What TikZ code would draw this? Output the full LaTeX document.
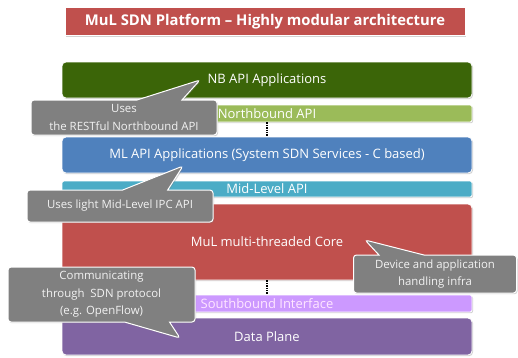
\documentclass[tikz,border=0pt]{standalone}
\usepackage{fontspec}
\setmainfont{Open Sans}
\usetikzlibrary{shapes.callouts,shadows}
\definecolor{titlered}{HTML}{C0504D}
\definecolor{nbgreen}{HTML}{3B6508}
\definecolor{nbbar}{HTML}{9BBB59}
\definecolor{mlblue}{HTML}{4F81BD}
\definecolor{midbar}{HTML}{4BACC6}
\definecolor{corered}{HTML}{C0504D}
\definecolor{sbbar}{HTML}{CC99FF}
\definecolor{dpviolet}{HTML}{8064A2}
\definecolor{calgray}{HTML}{808080}
\definecolor{caltext}{HTML}{F2F2F2}
\begin{document}
\begin{tikzpicture}[x=1pt,y=-1pt,
  layerbox/.style={draw=white, line width=0.8pt, rounded corners=4pt, text=white,
    minimum width=410pt, inner sep=0pt, font=\fontsize{13}{14}\selectfont,
    drop shadow={shadow xshift=1pt, shadow yshift=-1.2pt, opacity=0.35}},
  barbox/.style={layerbox, rounded corners=2pt},
  callbox/.style={rectangle callout, draw=white, line width=1pt, fill=calgray,
    rounded corners=3pt, text=caltext, align=center, inner sep=0pt,
    font=\fontsize{11.4}{17.5}\selectfont, callout pointer width=45pt,
    drop shadow={shadow xshift=1pt, shadow yshift=-1.2pt, opacity=0.35}},
  dotline/.style={line width=1.4pt, dash pattern=on 1.3pt off 1.1pt}]
\useasboundingbox[fill=white] (0,0) rectangle (518,357);
% title
\node[fill=titlered, draw=white, line width=0.8pt, text=white, inner sep=0pt,
  minimum width=400pt, minimum height=28pt, font=\bfseries\fontsize{14.8}{16}\selectfont,
  drop shadow={shadow xshift=1pt, shadow yshift=-1.2pt, opacity=0.35}]
  (title) at (265,21.5) {MuL SDN Platform – Highly modular architecture};
% layers
\node[layerbox, fill=nbgreen, minimum height=36pt] (nb) at (267,80) {NB API Applications};
\node[barbox, fill=nbbar, minimum height=17pt] (nbapi) at (267,113.5) {Northbound API};
\node[layerbox, fill=mlblue, minimum height=36pt] (ml) at (267,155) {ML API Applications (System SDN Services - C based)};
\node[barbox, fill=midbar, minimum height=16pt] (mid) at (267,189) {Mid-Level API};
\node[layerbox, fill=corered, minimum height=76pt] (core) at (267,242) {MuL multi-threaded Core};
\node[barbox, fill=sbbar, minimum height=17pt, text={rgb,255:red,255;green,230;blue,255}] (sb) at (267,303.5) {Southbound Interface};
\node[layerbox, fill=dpviolet, minimum height=37pt] (dp) at (267,336.5) {Data Plane};
% dotted links
\draw[dotline] (nbapi.south) -- (ml.north);
\draw[dotline] (core.south) -- (sb.north);
% pointer tips
\coordinate (p1) at (200,80);
\coordinate (p2) at (183,166);
\coordinate (p3) at (365,240);
\coordinate (p4) at (180,338);
% callouts
\node[callbox, callout absolute pointer={(p1)}, minimum width=186pt, minimum height=35pt]
  (c1) at (124,117.5) {Uses\\the RESTful Northbound API};
\node[callbox, callout absolute pointer={(p2)}, minimum width=186pt, minimum height=32pt]
  (c2) at (120,206) {Uses light Mid-Level IPC API};
\node[callbox, callout absolute pointer={(p3)}, minimum width=163pt, minimum height=38pt]
  (c3) at (435,274) {Device and application\\handling infra};
\node[callbox, callout absolute pointer={(p4)}, minimum width=187pt, minimum height=55pt]
  (c4) at (101.5,294.5) {Communicating\\through~ SDN protocol\\(e.g. OpenFlow)};
\end{tikzpicture}
\end{document}
